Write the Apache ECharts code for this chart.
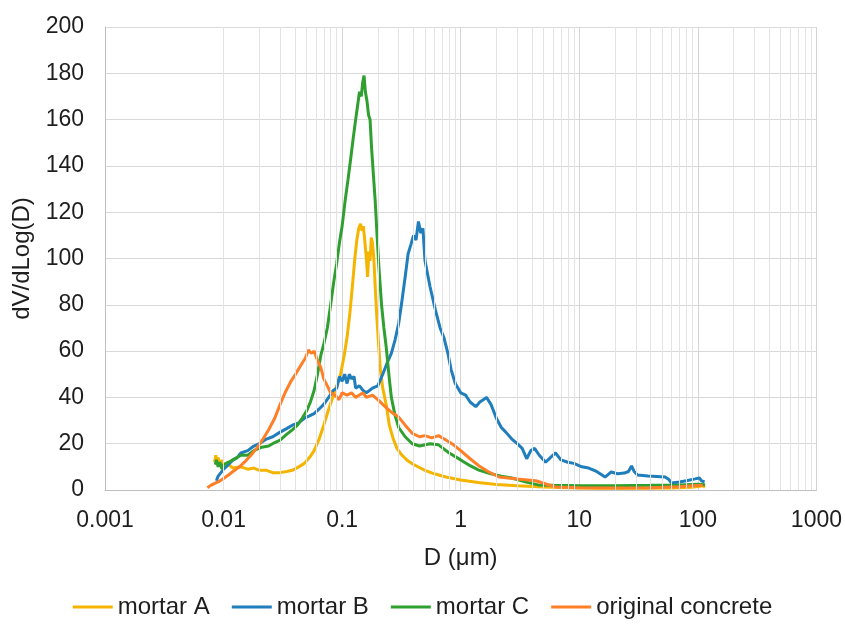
<!DOCTYPE html>
<html>
<head>
<meta charset="utf-8">
<script src="https://cdn.jsdelivr.net/npm/echarts@6/dist/echarts.min.js"></script>
<style>
  html, body { margin: 0; padding: 0; background: #fff; }
  #chart { width: 845px; height: 628px; }
</style>
</head>
<body>
<div id="chart"></div>
<script>
    // x tick labels on the log axis
    const xTickLabels = ['0.001', '0.01', '0.1', '1', '10', '100', '1000']
    const seriesNames = ['mortar A', 'mortar B', 'mortar C', 'original concrete']
    const seriesColors = ['#F5B400', '#1F7EBB', '#2FA02F', '#FF7F27']

    // [D (um), dV/dLog(D)]
    const mortarA = [
        [0.0084, 12], [0.0086, 15], [0.0088, 11], [0.009, 14], [0.0093, 10], [0.0097, 13], [0.010, 10],
        [0.011, 11], [0.012, 9.5], [0.014, 10], [0.016, 9], [0.018, 9.5], [0.02, 8.5], [0.023, 8.5],
        [0.026, 7.5], [0.03, 7.5], [0.034, 8], [0.038, 8.5], [0.043, 10], [0.048, 11.5], [0.053, 14],
        [0.058, 17], [0.064, 22], [0.07, 28], [0.076, 34], [0.082, 39], [0.09, 45], [0.097, 50],
        [0.104, 58], [0.11, 66], [0.116, 76], [0.122, 88], [0.128, 100], [0.133, 108], [0.138, 113],
        [0.143, 115], [0.147, 112], [0.151, 114], [0.155, 108], [0.16, 100], [0.164, 92], [0.168, 103],
        [0.172, 99], [0.176, 109], [0.18, 107], [0.185, 100], [0.19, 88], [0.196, 75], [0.203, 63],
        [0.21, 52], [0.22, 44], [0.235, 37], [0.25, 28], [0.27, 22], [0.29, 18], [0.32, 15], [0.36, 12.5],
        [0.4, 11], [0.5, 8.5], [0.6, 7], [0.75, 5.6], [1.0, 4.3], [1.4, 3.2], [2, 2.4], [3, 1.8], [5, 1.3],
        [8, 1.0], [15, 0.8], [30, 0.8], [60, 0.9], [90, 1.2], [110, 1.8], [115, 1.2]
    ]
    const mortarB = [
        [0.0087, 4], [0.009, 6], [0.0095, 7.5], [0.01, 9], [0.011, 11], [0.012, 13], [0.013, 14], [0.014, 16],
        [0.016, 17], [0.018, 19], [0.02, 20], [0.023, 22], [0.026, 23], [0.03, 25], [0.034, 26.5], [0.038, 28],
        [0.043, 29], [0.048, 31], [0.053, 32], [0.058, 33], [0.064, 35], [0.07, 37], [0.077, 40], [0.084, 43],
        [0.09, 44], [0.095, 49], [0.1, 47], [0.105, 50], [0.11, 46], [0.115, 50], [0.12, 48], [0.126, 49],
        [0.13, 44], [0.14, 45], [0.15, 43], [0.16, 42], [0.17, 43], [0.18, 44], [0.2, 45], [0.22, 50],
        [0.24, 55], [0.26, 59], [0.28, 65], [0.3, 72], [0.32, 82], [0.34, 92], [0.36, 102], [0.38, 106],
        [0.4, 110], [0.42, 108], [0.44, 116], [0.46, 111], [0.48, 113], [0.5, 99], [0.55, 88], [0.61, 78],
        [0.67, 70], [0.72, 66], [0.78, 59], [0.83, 52], [0.9, 46], [1.0, 42], [1.1, 41], [1.2, 38],
        [1.34, 36], [1.45, 38], [1.55, 39], [1.65, 40], [1.8, 37], [2.0, 31], [2.2, 27], [2.4, 25],
        [2.7, 22], [3.0, 20], [3.3, 18], [3.6, 13.5], [3.9, 17], [4.2, 18], [4.6, 15], [5.2, 12],
        [5.7, 14], [6.3, 16], [7, 13], [8, 12], [9, 11.5], [10.5, 10], [12, 9.5], [14, 8], [16.5, 5.6],
        [18.6, 7.8], [21, 7], [24, 7.3], [26, 8], [27.6, 10.4], [29, 8], [31, 6.5], [38, 6], [45, 5.8],
        [53, 5.6], [57, 4.5], [60, 3], [70, 3.5], [80, 4], [95, 4.8], [103, 5.2], [107, 4], [114, 3.5]
    ]
    const mortarC = [
        [0.0085, 11], [0.0087, 13], [0.009, 10], [0.0093, 12], [0.0097, 9], [0.01, 11], [0.011, 12],
        [0.012, 13], [0.013, 14], [0.014, 15], [0.016, 15], [0.018, 17], [0.021, 18.5], [0.024, 19],
        [0.027, 20.5], [0.03, 21.5], [0.034, 24], [0.038, 26], [0.042, 28], [0.046, 31], [0.05, 34],
        [0.054, 38], [0.058, 43], [0.062, 50], [0.066, 58], [0.07, 63], [0.075, 70], [0.08, 80], [0.085, 90],
        [0.09, 98], [0.095, 107], [0.1, 114], [0.106, 125], [0.112, 134], [0.118, 143], [0.124, 152],
        [0.13, 160], [0.135, 166], [0.14, 172], [0.145, 170], [0.149, 176], [0.153, 179], [0.157, 172],
        [0.162, 168], [0.167, 162], [0.172, 160], [0.177, 148], [0.183, 137], [0.19, 125], [0.197, 110],
        [0.205, 95], [0.215, 80], [0.225, 70], [0.235, 62], [0.25, 48], [0.26, 40], [0.28, 32], [0.3, 27],
        [0.34, 23], [0.39, 20], [0.45, 19], [0.55, 20], [0.65, 19.5], [0.8, 16], [1.0, 13], [1.2, 10.5],
        [1.42, 8.6], [1.8, 7], [2.2, 6], [2.7, 5.2], [3.5, 3.5], [4.5, 2.2], [6, 2], [10, 1.8], [20, 1.8],
        [40, 2], [70, 2.2], [100, 2.5], [115, 2.3]
    ]
    const originalConcrete = [
        [0.0073, 1], [0.0078, 2], [0.0085, 3], [0.009, 3.5], [0.01, 5], [0.011, 6.5], [0.012, 8], [0.0136, 10],
        [0.015, 12], [0.017, 15], [0.019, 18], [0.0212, 21.5], [0.024, 26], [0.027, 31], [0.03, 37],
        [0.033, 42], [0.037, 47], [0.041, 50.5], [0.045, 54], [0.049, 57], [0.052, 60.5], [0.055, 59],
        [0.058, 60], [0.062, 56], [0.066, 53], [0.07, 48], [0.075, 45], [0.08, 42], [0.087, 41], [0.094, 39],
        [0.1, 42], [0.11, 41], [0.12, 42], [0.13, 40], [0.14, 41], [0.15, 42], [0.16, 40], [0.18, 41],
        [0.2, 39], [0.22, 37], [0.247, 34.6], [0.27, 33], [0.3, 31.5], [0.34, 28], [0.39, 24.5], [0.45, 23],
        [0.5, 23.5], [0.57, 22.5], [0.65, 23.5], [0.75, 21.6], [0.87, 19.5], [1.0, 17], [1.2, 13.5],
        [1.42, 10.5], [1.7, 8], [2.1, 5.6], [3, 4.8], [4.3, 4], [5.3, 2.5], [6.3, 1.3], [10, 1], [20, 0.9],
        [40, 1], [70, 1.4], [90, 1.8], [110, 2]
    ]
    const allData = [mortarA, mortarB, mortarC, originalConcrete]

    // minor vertical grid lines at 2..9 x each decade (Excel style)
    let minorLines = []
    for (let e = -3; e < 3; e++) {
        for (let k = 2; k < 10; k++) {
            minorLines.push({ xAxis: k * Math.pow(10, e) })
        }
    }

    const font = '"Liberation Sans", Arial, sans-serif'
    const txt = '#1e1e1e'

    let series = allData.map((d, i) => ({
        name: seriesNames[i],
        type: 'line',
        data: d,
        showSymbol: false,
        symbol: 'none',
        z: 3,
        lineStyle: { color: seriesColors[i], width: 3 },
        itemStyle: { color: seriesColors[i] }
    }))
    series.unshift({
        name: 'grid',
        type: 'line',
        data: [],
        z: 1,
        silent: true,
        markLine: {
            silent: true,
            symbol: ['none', 'none'],
            label: { show: false },
            lineStyle: { color: '#e3e3e3', width: 1, type: 'solid' },
            emphasis: { disabled: true },
            data: minorLines
        }
    })

    let option = {
        animation: false,
        backgroundColor: '#fff',
        grid: { left: 105, right: 28, top: 27, bottom: 138 },
        legend: {
            data: seriesNames,
            bottom: 4,
            left: 'center',
            icon: 'rect',
            itemWidth: 40,
            itemHeight: 3,
            itemGap: 22,
            textStyle: { fontSize: 24, color: txt, fontFamily: font }
        },
        xAxis: {
            type: 'log',
            logBase: 10,
            min: 0.001,
            max: 1000,
            name: 'D (μm)',
            nameLocation: 'middle',
            nameGap: 56,
            nameTextStyle: { fontSize: 24, color: txt, fontFamily: font },
            axisLine: { lineStyle: { color: '#bfbfbf', width: 1 } },
            axisTick: { show: false },
            axisLabel: {
                fontSize: 23, color: txt, fontFamily: font, margin: 19,
                formatter: (v, i) => xTickLabels[i]
            },
            splitLine: { show: true, lineStyle: { color: '#d4d4d4', width: 1 } }
        },
        yAxis: {
            type: 'value',
            min: 0,
            max: 200,
            interval: 20,
            name: 'dV/dLog(D)',
            nameLocation: 'middle',
            nameRotate: 90,
            nameGap: 65,
            nameTextStyle: { fontSize: 24, color: txt, fontFamily: font },
            axisLine: { show: true, lineStyle: { color: '#bfbfbf', width: 1 } },
            axisTick: { show: false },
            axisLabel: { fontSize: 23, color: txt, fontFamily: font, margin: 21 },
            splitLine: { show: true, lineStyle: { color: '#d9d9d9', width: 1 } }
        },
        series: series
    }

    let chart = echarts.init(document.getElementById('chart'))
    chart.setOption(option)
</script>
</body>
</html>
